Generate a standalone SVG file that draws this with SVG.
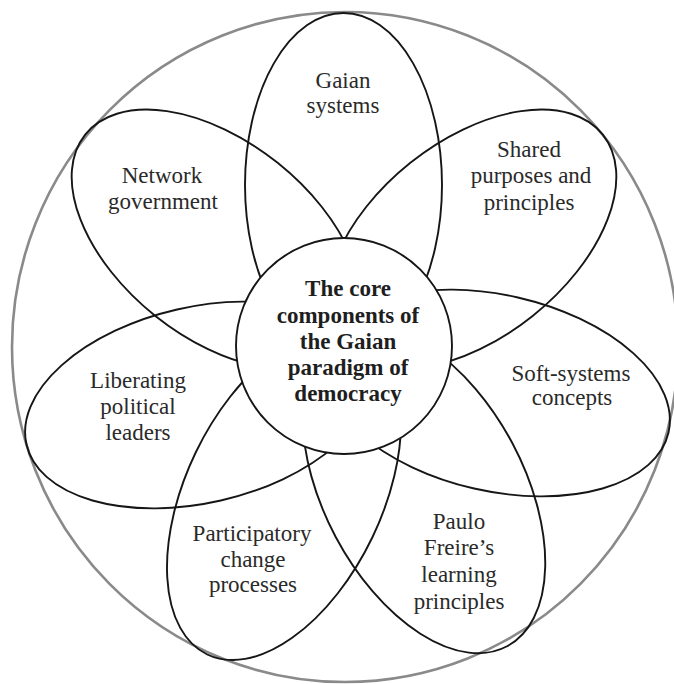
<svg xmlns="http://www.w3.org/2000/svg" width="674" height="684" viewBox="0 0 674 684">
<style>
.petal{fill:none;stroke:#161616;stroke-width:1.9}
.outer{fill:none;stroke:#8a8a8a;stroke-width:2.6}
.core{fill:#ffffff;stroke:#161616;stroke-width:1.9}
.lbl{font-family:"Liberation Serif","Times New Roman",serif;font-size:23px;fill:#2a2a2a;text-anchor:middle}
.ctr{font-family:"Liberation Serif","Times New Roman",serif;font-size:23px;font-weight:bold;fill:#1e1e1e;text-anchor:middle}
</style>
<rect width="674" height="684" fill="#ffffff"/>
<ellipse class="outer" cx="345" cy="347" rx="333" ry="335"/>
<g id="gaian-systems">
<ellipse class="petal" cx="343.5" cy="185" rx="98.5" ry="172"/>
<text class="lbl" x="343" y="88">Gaian</text>
<text class="lbl" x="343" y="113">systems</text>
</g>
<g id="shared-purposes">
<ellipse class="petal" cx="471.5" cy="239.4" rx="168" ry="98" transform="rotate(-38.6 471.5 239.4)"/>
<text class="lbl" x="529" y="157">Shared</text>
<text class="lbl" x="531" y="183">purposes and</text>
<text class="lbl" x="529" y="210">principles</text>
</g>
<g id="soft-systems">
<ellipse class="petal" cx="496" cy="393" rx="177" ry="98" transform="rotate(12.9 496 393)"/>
<text class="lbl" x="571" y="381">Soft-systems</text>
<text class="lbl" x="572" y="405">concepts</text>
</g>
<g id="paulo-freire">
<ellipse class="petal" cx="424" cy="490" rx="177" ry="100" transform="rotate(62 424 490)"/>
<text class="lbl" x="459" y="529">Paulo</text>
<text class="lbl" x="459" y="555">Freire’s</text>
<text class="lbl" x="459" y="582">learning</text>
<text class="lbl" x="459" y="609">principles</text>
</g>
<g id="participatory-change">
<ellipse class="petal" cx="284" cy="495" rx="177" ry="98" transform="rotate(-64.3 284 495)"/>
<text class="lbl" x="252" y="541">Participatory</text>
<text class="lbl" x="253" y="567">change</text>
<text class="lbl" x="253" y="592">processes</text>
</g>
<g id="liberating-leaders">
<ellipse class="petal" cx="199" cy="405" rx="177" ry="98" transform="rotate(-12.9 199 405)"/>
<text class="lbl" x="138" y="388">Liberating</text>
<text class="lbl" x="138" y="414">political</text>
<text class="lbl" x="138" y="440">leaders</text>
</g>
<g id="network-government">
<ellipse class="petal" cx="216.5" cy="239.4" rx="168" ry="98" transform="rotate(38.6 216.5 239.4)"/>
<text class="lbl" x="162" y="183">Network</text>
<text class="lbl" x="163" y="209">government</text>
</g>
<g id="core">
<circle class="core" cx="344" cy="346" r="108"/>
<text class="ctr" x="348" y="296">The core</text>
<text class="ctr" x="348" y="323">components of</text>
<text class="ctr" x="348" y="349">the Gaian</text>
<text class="ctr" x="348" y="375">paradigm of</text>
<text class="ctr" x="348" y="401">democracy</text>
</g>
</svg>
